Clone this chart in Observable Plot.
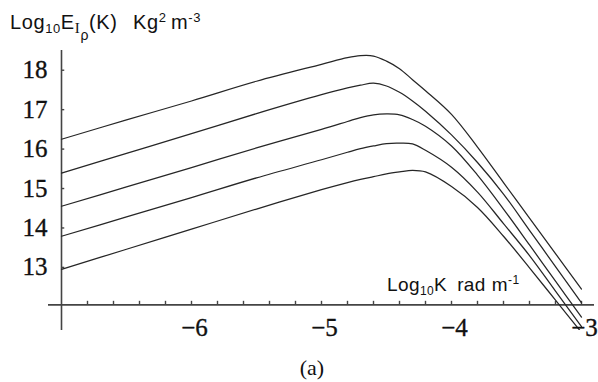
<!DOCTYPE html>
<html><head><meta charset="utf-8">
<script src="https://cdn.jsdelivr.net/npm/d3@7"></script>
<script src="https://cdn.jsdelivr.net/npm/@observablehq/plot@0.6"></script>
<style>body{margin:0;background:#fff}</style>
</head><body><div id="chart"></div>
<script>
// log10 K values (rad m^-1) at which the curves were read
const kValues = [-7, -6.5, -6, -5.5, -5, -4.8, -4.7, -4.6, -4.5, -4.4, -4.3, -4.2, -4.0, -3.8, -3.6, -3.4, -3.2, -3.0];
// log10 E values for the five curves (top to bottom)
const curve1 = [16.25, 16.74, 17.22, 17.72, 18.15, 18.32, 18.37, 18.36, 18.23, 18.04, 17.76, 17.48, 16.88, 16.05, 15.15, 14.25, 13.35, 12.45];
const curve2 = [15.39, 15.89, 16.39, 16.90, 17.38, 17.55, 17.62, 17.67, 17.60, 17.44, 17.22, 16.96, 16.36, 15.66, 14.86, 13.94, 13.02, 12.10];
const curve3 = [14.55, 15.04, 15.53, 16.03, 16.50, 16.70, 16.80, 16.87, 16.89, 16.87, 16.75, 16.58, 16.08, 15.34, 14.48, 13.57, 12.65, 11.74];
const curve4 = [13.79, 14.28, 14.77, 15.27, 15.73, 15.92, 16.01, 16.08, 16.14, 16.15, 16.13, 15.97, 15.54, 14.91, 14.11, 13.30, 12.40, 11.50];
const curve5 = [12.95, 13.46, 13.97, 14.48, 14.97, 15.15, 15.23, 15.30, 15.37, 15.42, 15.46, 15.42, 15.05, 14.52, 13.79, 12.99, 12.17, 11.35];
const curveNames = ["curve1", "curve2", "curve3", "curve4", "curve5"];

const xMajorTicks = [-6, -5, -4, -3];
const xTickLabels = ["\u22126", "\u22125", "\u22124", "\u22123"];
const xMinorTicks = [-6.8, -6.6, -6.4, -6.2, -6.0, -5.8, -5.6, -5.4, -5.2, -5.0, -4.8, -4.6, -4.4, -4.2, -4.0, -3.8, -3.6, -3.4, -3.2, -3.0];
const yTicks = [13, 14, 15, 16, 17, 18];
const yTickLabels = ["13", "14", "15", "16", "17", "18"];
const axisOrigin = [-7, 12.05];

const table = [curve1, curve2, curve3, curve4, curve5].flatMap((vals, i) =>
  vals.map((v, j) => ({k: kValues[j], e: v, s: curveNames[i]})));

const serif = "'Liberation Serif', 'Times New Roman', serif";
const sans = "'Liberation Sans', Arial, sans-serif";
const axisColor = "#444";

const plot = Plot.plot({
  width: 598, height: 382,
  marginLeft: 48, marginRight: 4, marginTop: 50, marginBottom: 52,
  x: {domain: [-7.1, -2.9], axis: null},
  y: {domain: [11.4, 18.5], axis: null},
  style: {background: "white", overflow: "visible"},
  marks: [
    Plot.ruleY([axisOrigin[1]], {stroke: axisColor, strokeWidth: 1.6}),
    Plot.ruleX([axisOrigin[0]], {stroke: axisColor, strokeWidth: 1.6}),
    Plot.ruleX(xMinorTicks, {y1: axisOrigin[1], y2: axisOrigin[1] + 0.09, stroke: axisColor, strokeWidth: 1.4}),
    Plot.ruleY(yTicks, {x1: axisOrigin[0], x2: axisOrigin[0] + 0.025, stroke: axisColor, strokeWidth: 1.4}),
    Plot.line(table, {x: "k", y: "e", z: "s", stroke: "#262626", strokeWidth: 1.25, curve: "catmull-rom", clip: true}),
    Plot.text(xMajorTicks, {x: d => d, y: () => axisOrigin[1], text: (d, i) => xTickLabels[i], dy: 23, dx: 3, fontSize: 25, fontFamily: serif, fill: "#111", stroke: "#111", strokeWidth: 0.35}),
    Plot.text(yTicks, {x: () => axisOrigin[0], y: d => d, text: (d, i) => yTickLabels[i], textAnchor: "end", dx: -14, fontSize: 25, fontFamily: serif, fill: "#111", stroke: "#111", strokeWidth: 0.35})
  ]
});
document.getElementById("chart").appendChild(plot);

const svg = d3.select(plot);
// y-axis label
const yl = svg.append("text").attr("x", 10).attr("y", 29).attr("text-anchor", "start").attr("font-family", sans).attr("font-size", 20).attr("letter-spacing", 0.6).attr("fill", "#111");
yl.append("tspan").text("Log");
yl.append("tspan").attr("font-size", 13).attr("dy", 4).text("10");
yl.append("tspan").attr("dy", -4).text("E");
yl.append("tspan").attr("font-size", 15).attr("font-family", serif).attr("dy", 4).text("I");
yl.append("tspan").attr("font-size", 14).attr("dy", 7).text("\u03c1");
yl.append("tspan").attr("dy", -11).text("(K)");
yl.append("tspan").attr("x", 133).text("Kg");
yl.append("tspan").attr("font-size", 13).attr("dy", -7).text("2");
yl.append("tspan").attr("x", 171).attr("dy", 7).text("m");
yl.append("tspan").attr("font-size", 13).attr("dy", -7).text("-3");

// x-axis label
const xl = svg.append("text").attr("x", 387).attr("y", 291).attr("text-anchor", "start").attr("font-family", sans).attr("font-size", 19).attr("letter-spacing", 0.4).attr("fill", "#111");
xl.append("tspan").text("Log");
xl.append("tspan").attr("font-size", 12).attr("dy", 4).text("10");
xl.append("tspan").attr("dy", -4).text("K");
xl.append("tspan").attr("dx", 10).text("rad");
xl.append("tspan").attr("dx", 6).text("m");
xl.append("tspan").attr("font-size", 12).attr("dy", -7).text("-1");

// caption
svg.append("text").attr("x", 312).attr("y", 375).attr("text-anchor", "middle").attr("font-family", serif).attr("font-size", 22).attr("fill", "#111").text("(a)");
</script>
</body></html>
